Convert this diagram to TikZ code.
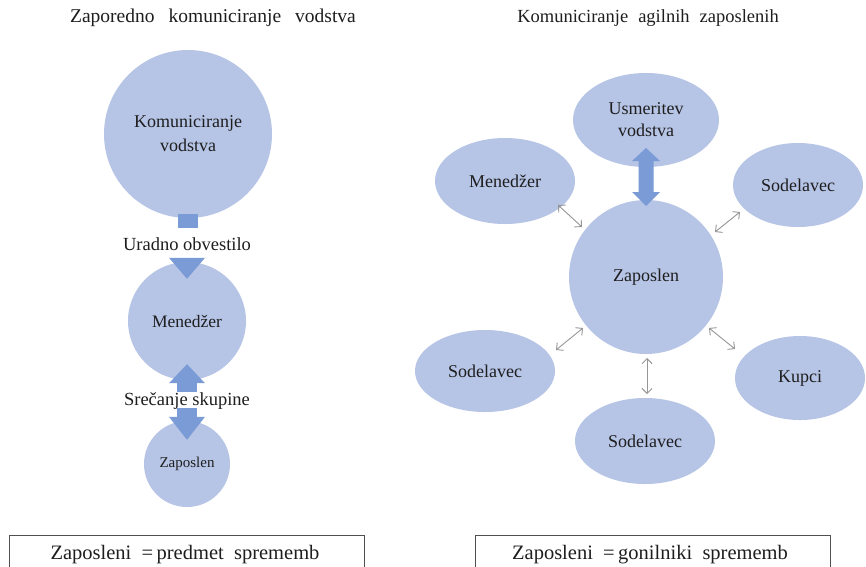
\documentclass[tikz,border=0pt]{standalone}
\usepackage{fontspec}
\setmainfont{Liberation Serif}
\usetikzlibrary{shapes.geometric,arrows.meta,calc}
\definecolor{bubble}{RGB}{182,196,230}
\definecolor{bluearrow}{RGB}{122,155,214}
\definecolor{txt}{RGB}{30,30,30}
\definecolor{grayarrow}{RGB}{150,150,150}
\definecolor{boxline}{RGB}{80,80,80}
\begin{document}
\begin{tikzpicture}[x=1pt,y=-1pt,
  bub/.style={circle,fill=bubble,draw=none,inner sep=0pt,text=txt,align=center,font=\fontsize{18}{24}\selectfont},
  ell/.style={ellipse,fill=bubble,draw=none,inner sep=0pt,text=txt,align=center,font=\fontsize{18}{22}\selectfont},
  lbl/.style={text=txt,font=\fontsize{18.5}{20}\selectfont,inner sep=1pt},
  ttl/.style={text=txt,font=\fontsize{18.5}{20}\selectfont,inner sep=0pt},
  boxt/.style={text=txt,font=\fontsize{20.5}{22}\selectfont,inner sep=0pt},
  barrow/.style={fill=bluearrow,draw=none},
  garrow/.style={draw=grayarrow,line width=0.9pt,{Straight Barb[length=5pt,width=10pt]}-{Straight Barb[length=5pt,width=10pt]}},
  boxl/.style={draw=boxline,line width=0.9pt}
]
\useasboundingbox (0,0) rectangle (866,566);
\fill[white] (0,0) rectangle (866,566);

% ---------- left column ----------
\node[ttl,font=\fontsize{19.5}{22}\selectfont] (tl) at (213,18) {Zaporedno\hspace{14pt}komuniciranje\hspace{14pt}vodstva};

\node[bub,minimum size=168pt] (kv) at (188,134) {Komuniciranje\\vodstva};
\node[bub,minimum size=118pt,font=\fontsize{17.5}{20}\selectfont] (mn) at (187,321) {Menedžer};
\node[bub,minimum size=86pt,font=\fontsize{15}{18}\selectfont] (zl) at (187,464) {Zaposlen};

\node[lbl] (uo) at (187,244) {Uradno obvestilo};
\node[lbl] (ss) at (187,401) {Srečanje skupine};

% arrow kv -> mn (split by label)
\fill[barrow] ($(kv.south)+(-10,-4)$) rectangle ($(kv.south)+(10,10)$);
\fill[barrow] ($(mn.north)+(-18,-4)$) -- ($(mn.north)+(18,-4)$) -- ($(mn.north)+(0,17)$) -- cycle;
% arrow up into mn
\fill[barrow] ($(mn.south)+(0,-16)$) -- ($(mn.south)+(18,3)$) -- ($(mn.south)+(-18,3)$) -- cycle;
\fill[barrow] ($(mn.south)+(-10,2)$) rectangle ($(mn.south)+(10,12)$);
% arrow down into zl
\fill[barrow] ($(zl.north)+(-10,-13)$) rectangle ($(zl.north)+(10,-3)$);
\fill[barrow] ($(zl.north)+(-18,-4)$) -- ($(zl.north)+(18,-4)$) -- ($(zl.north)+(0,19)$) -- cycle;

\node[boxt] (bl) at (185,555) {Zaposleni\ \ =\,predmet\ \ sprememb};
\draw[boxl] (9,570) -- (9,535) -- (364,535) -- (364,570);

% ---------- right column ----------
\node[ttl] (tr) at (648,18) {Komuniciranje\hspace{10pt}agilnih\hspace{10pt}zaposlenih};

\node[ell,minimum width=146pt,minimum height=94pt] (us) at (646,120) {Usmeritev\\vodstva};
\node[bub,minimum size=154pt] (zc) at (646,277) {Zaposlen};
\node[ell,minimum width=140pt,minimum height=86pt] (me) at (505,181) {Menedžer};
\node[ell,minimum width=130pt,minimum height=84pt] (s1) at (798,185) {Sodelavec};
\node[ell,minimum width=140pt,minimum height=82pt] (s2) at (485,371) {Sodelavec};
\node[ell,minimum width=140pt,minimum height=86pt] (s3) at (645,441) {Sodelavec};
\node[ell,minimum width=130pt,minimum height=84pt] (ku) at (800,378) {Kupci};

% thick double arrow
\fill[barrow] (646,148) -- (660,161) -- (653.5,161) -- (653.5,192) -- (660,192) -- (646,206)
  -- (632,192) -- (638.5,192) -- (638.5,161) -- (632,161) -- cycle;

% gray arrows
\coordinate (a1) at (558,205); \coordinate (b1) at (582,227);
\coordinate (a2) at (715,232); \coordinate (b2) at (740,212);
\coordinate (a3) at (556,350); \coordinate (b3) at (583,328);
\coordinate (a4) at (647,358); \coordinate (b4) at (647,394);
\coordinate (a5) at (709,328); \coordinate (b5) at (735,349);
\draw[garrow] (a1) -- (b1);
\draw[garrow] (a2) -- (b2);
\draw[garrow] (a3) -- (b3);
\draw[garrow] (a4) -- (b4);
\draw[garrow] (a5) -- (b5);

\node[boxt] (br) at (650,555) {Zaposleni\ \ =\,gonilniki\ \ sprememb};
\draw[boxl] (475,570) -- (475,535) -- (830,535) -- (830,570);
\end{tikzpicture}
\end{document}
